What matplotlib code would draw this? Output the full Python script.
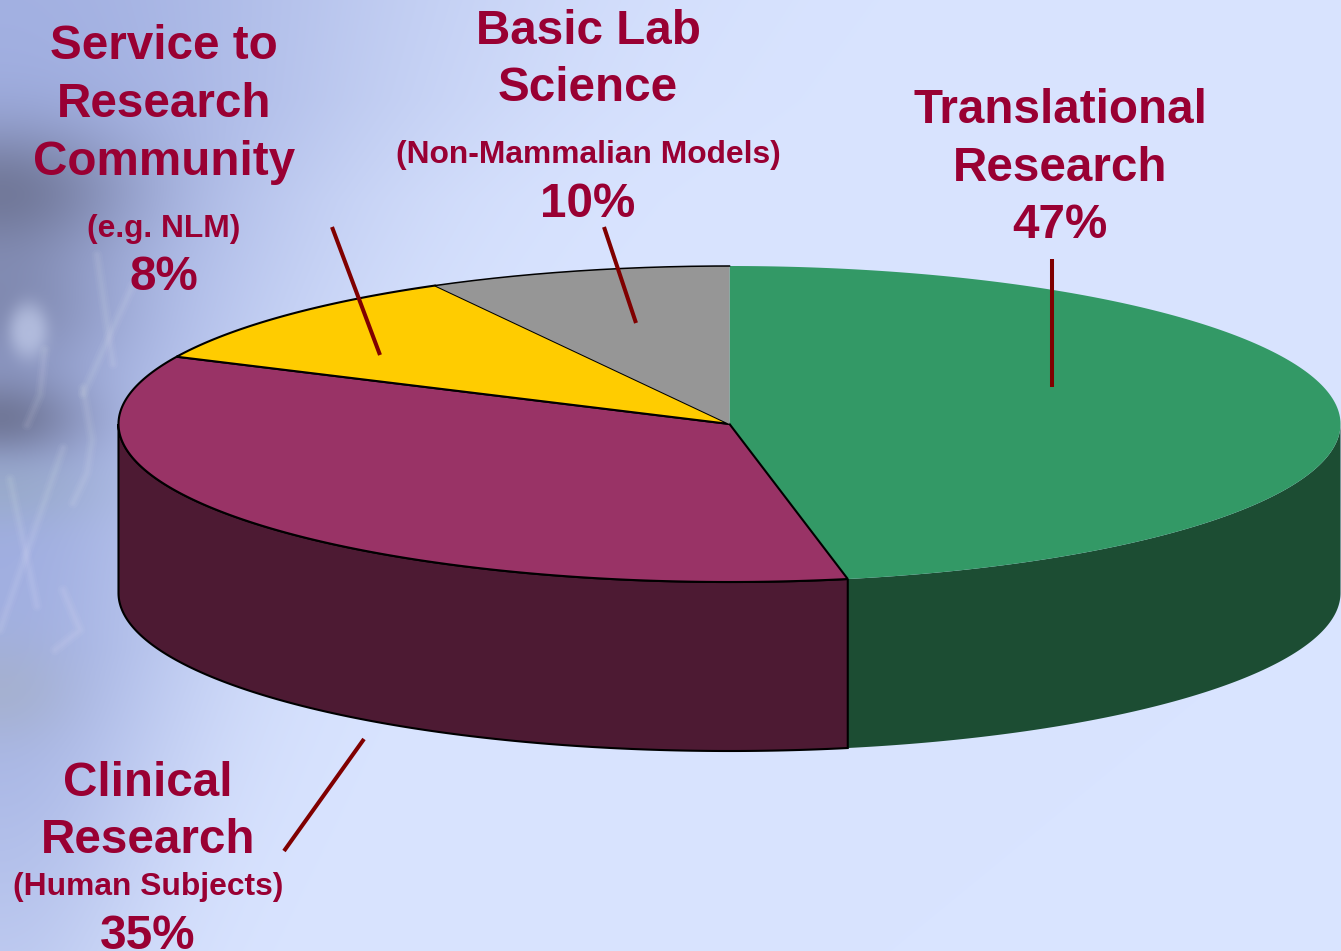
import numpy as np
import matplotlib
matplotlib.use("Agg")
import matplotlib.pyplot as plt

# ---- data ----
slice_names = ["Translational", "Clinical", "Yellow slice", "Grey slice"]
slice_shares = [46.9, 35.1, 10, 8]
top_colors = ["#339966", "#993366", "#FFCC00", "#969696"]
side_colors = ["#1C4D33", "#4D1A33", "#806600", "#4B4B4B"]
outlined = [False, True, True, False]

label_lines = [
    "Service to", "Research", "Community", "(e.g. NLM)", "8%",
    "Basic Lab", "Science", "(Non-Mammalian Models)", "10%",
    "Translational", "Research", "47%",
    "Clinical", "Research", "(Human Subjects)", "35%",
]
label_sizes = [34.3, 34.3, 34.3, 22.9, 34.3, 34.3, 34.3, 22.9, 34.3, 34.3, 34.3, 34.3, 34.3, 34.3, 22.9, 34.3]
label_x = [164] * 5 + [588] * 4 + [1060] * 3 + [148] * 4
label_base = [59, 117, 175, 237, 290, 44, 101, 163, 217, 123, 181, 238, 796, 853, 895, 949]

leaders = [((332, 227), (380, 355)), ((604, 227), (636, 323)),
           ((1052, 259), (1052, 387)), ((364, 739), (284, 851))]

W, H = 1341, 951
CX, CY, RX, RY, DEPTH = 729.5, 424, 611, 158, 169
TEXT = "#990033"
LEAD = "#800000"


def background():
    xx, yy = np.meshgrid(np.arange(W), np.arange(H))
    base = np.array([217, 228, 255.0])
    blue = np.array([160, 174, 224.0])
    grey = np.array([108, 114, 145.0])
    ky = [0, 100, 200, 300, 400, 520, 650, 800, 951]
    amp = np.interp(yy, ky, [.95, 1, 1, 1, 1, 1, .95, .75, .5])
    wid = np.interp(yy, ky, [440, 400, 330, 290, 250, 220, 210, 180, 150])
    d = amp * np.exp(-(xx / wid) ** 2)
    img = base + (blue - base) * d[..., None]
    g = (0.85 * np.exp(-(xx / 125.0) ** 2) * np.exp(-((yy - 190) / 65.0) ** 2)
         + 0.55 * np.exp(-(xx / 110.0) ** 2) * np.exp(-((yy - 310) / 70.0) ** 2)
         + 0.85 * np.exp(-(xx / 85.0) ** 2) * np.exp(-((yy - 420) / 42.0) ** 2))
    g = np.clip(g, 0, 1)
    img = img + (grey - img) * g[..., None]
    teal = np.exp(-(xx / 100.0) ** 2) * np.exp(-((yy - 490) / 35.0) ** 2) * 0.5
    img = img + (np.array([150, 170, 190.0]) - img) * teal[..., None]
    low = np.exp(-(xx / 70.0) ** 2) * np.exp(-((yy - 690) / 50.0) ** 2) * 0.55
    img = img + (np.array([165, 175, 195.0]) - img) * low[..., None]
    bulb = np.exp(-(((xx - 28) / 20.0) ** 2 + ((yy - 330) / 28.0) ** 2) ** 1.5) * 0.7
    img = img + (np.array([195, 205, 235.0]) - img) * bulb[..., None]
    return np.clip(img, 0, 255).astype(np.uint8)


def ell(theta_deg):
    t = np.radians(theta_deg)
    return CX + RX * np.cos(t), CY - RY * np.sin(t)


fig = plt.figure(figsize=(W / 100, H / 100), dpi=100)
ax = fig.add_axes([0, 0, 1, 1])
ax.imshow(background(), extent=(0, W, H, 0), aspect="auto", zorder=0)
ax.set_xlim(0, W)
ax.set_ylim(H, 0)
ax.axis("off")

# faint decorative streaks of the backdrop
for s in [[(0, 630), (63, 448)], [(10, 479), (37, 606)],
          [(83, 394), (133, 285)], [(97, 255), (113, 364)],
          [(83, 388), (92, 440), (87, 473), (73, 503)],
          [(45, 350), (40, 395), (27, 425)],
          [(63, 590), (80, 630), (55, 650)]]:
    xs, ys = zip(*s)
    for lw, a in [(8, .035), (5, .04), (2.5, .04)]:
        ax.plot(xs, ys, color="white", lw=lw, alpha=a, zorder=1,
                solid_capstyle="round", solid_joinstyle="round")

# slice angle ranges, clockwise from twelve o'clock
fracs = np.array(slice_shares, float) / sum(slice_shares)
ends = 90 - 360 * np.cumsum(fracs)
starts = np.r_[90, ends[:-1]]

# sides first
for a, b, c, o in zip(starts, ends, side_colors, outlined):
    lo, hi = max(b, -180), min(a, 0)
    if lo >= hi:
        continue
    th = np.linspace(lo, hi, 200)
    x, y = ell(th)
    px = np.r_[x, x[::-1]]
    py = np.r_[y + DEPTH, y[::-1]]
    ax.fill(px, py, facecolor=c, edgecolor="black" if o else "none",
            lw=1.5 if o else 0, zorder=2, joinstyle="miter")

# tops
for a, b, c, o in zip(starts, ends, top_colors, outlined):
    th = np.linspace(a, b, 200)
    x, y = ell(th)
    px = np.r_[CX, x]
    py = np.r_[CY, y]
    ax.fill(px, py, facecolor=c, edgecolor="black" if o else "none",
            lw=1.5 if o else 0, zorder=3, joinstyle="miter")
    if c == "#969696":
        ax.plot(x, y, color="black", lw=1.1, zorder=4)

# leader lines
for (p, q) in leaders:
    ax.plot([p[0], q[0]], [p[1], q[1]], color=LEAD, lw=2.9, zorder=5,
            solid_capstyle="butt")

for s, sz, x, y in zip(label_lines, label_sizes, label_x, label_base):
    ax.text(x, y, s, color=TEXT, fontsize=sz, fontweight="bold", ha="center",
            va="baseline", family="Liberation Sans", zorder=6)

fig.savefig("out.png", dpi=100)
